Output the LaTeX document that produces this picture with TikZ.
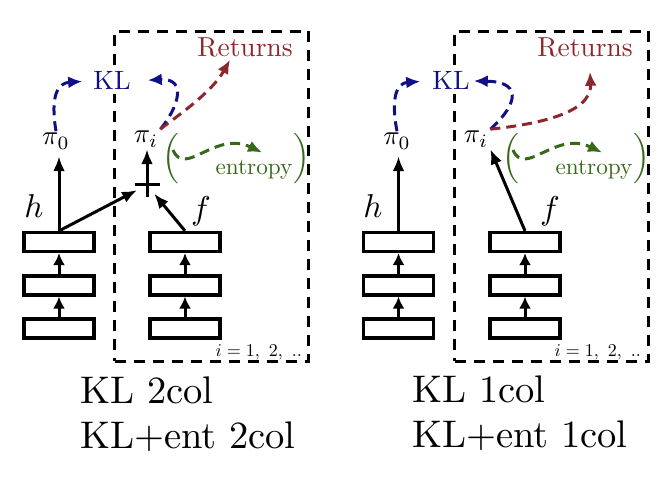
\documentclass[tikz,border=0pt]{standalone}
\usetikzlibrary{arrows.meta,calc}
\definecolor{klblue}{RGB}{15,15,135}
\definecolor{retred}{RGB}{140,40,45}
\definecolor{entgreen}{RGB}{55,105,25}
\newcommand{\mth}[2]{\scalebox{#1}{$#2$}}
\newcommand{\txt}[2]{\scalebox{#1}{#2}}
\tikzset{
  layer/.style={draw,line width=3.2pt,minimum width=70pt,minimum height=19pt,inner sep=0pt},
  arr/.style={-{Latex[length=15pt,width=12pt]},line width=3pt},
  sarr/.style={-{Latex[length=12pt,width=12pt]},line width=3pt},
  loopbox/.style={draw,line width=3pt,dash pattern=on 11pt off 8pt,minimum width=194pt,minimum height=330pt,inner sep=0pt},
  darr/.style={-{Latex[length=14pt,width=12pt]},line width=3pt,dash pattern=on 10pt off 6pt},
  lab/.style={inner sep=2pt},
  ent/.style={inner sep=2pt,text=entgreen},
  paren/.style={inner sep=0pt,text=entgreen},
  capt/.style={inner sep=0pt},
  idx/.style={inner sep=0pt},
  plusnode/.style={circle,minimum size=22pt,inner sep=0pt},
  plusline/.style={line width=3pt},
}
\begin{document}
\begin{tikzpicture}[x=1pt,y=-1pt]
\useasboundingbox (0,0) rectangle (665,481);

% ================= LEFT =================
\node[loopbox] (loopL) at (211.5,196.5) {};
\node[idx,anchor=base east] (idxL) at (302,357) {\mth{1.8}{i=1,\ 2,\ ..}};
\node[lab,text=klblue,fill=white,inner sep=4pt,anchor=base] (KLL) at (112,90) {\txt{2.65}{KL}};
\node[lab,text=retred,anchor=base] (RetL) at (245,57) {\txt{2.75}{Returns}};
\node[lab,anchor=base] (pi0L) at (56,145) {\mth{2.7}{\pi_0}};
\node[lab,anchor=base] (piL) at (146,143) {\mth{2.7}{\pi_i}};
\node[lab,anchor=base] (hL) at (34,218) {\mth{3.3}{h}};
\node[lab,anchor=base] (fL) at (201,220) {\mth{3.3}{f}};
\node[layer] (hL1) at (59,242) {};
\node[layer] (hL2) at (59,285.5) {};
\node[layer] (hL3) at (59,328.5) {};
\node[layer] (fL1) at (185,242) {};
\node[layer] (fL2) at (185,285.5) {};
\node[layer] (fL3) at (185,328.5) {};
\node[plusnode] (plusL) at (147,185) {};
\draw[plusline] ($(plusL)+(-12.5,0)$) -- ($(plusL)+(12.5,0)$)
                ($(plusL)+(0,-12.5)$) -- ($(plusL)+(0,12.5)$);
\node[paren] (poL) at (171,159) {\mth{2.8}{\Big(}};
\node[paren] (pcL) at (302,159) {\mth{2.8}{\Big)}};
\node[ent,anchor=base] (entL) at (254,175) {\txt{2.32}{entropy}};
\coordinate (gsL) at (173,150);

\draw[sarr] (hL3) -- (hL2);
\draw[sarr] (hL2) -- (hL1);
\draw[sarr] (fL3) -- (fL2);
\draw[sarr] (fL2) -- (fL1);
\draw[arr,shorten >=5pt] (hL1.north) -- (hL1.north |- pi0L.south);
\draw[arr] (hL1.north) -- (plusL);
\draw[arr] (fL1.north) -- (plusL);
\draw[arr] (plusL) -- (plusL |- piL.south);
\draw[darr,klblue,shorten >=7pt] (pi0L.north) .. controls (50,95) and (58,83) .. (KLL.west);
\draw[darr,klblue,shorten >=13pt] (piL.north east) .. controls (178,108) and (188,78) .. (KLL.east);
\draw[darr,retred] (piL.north east) .. controls (180,114) and (212,92) .. ($(RetL.south)+(-15,0)$);
\draw[darr,entgreen] (gsL) .. controls (185,178) and (215,130) .. ($(entL.north)+(8,-6)$);

\node[capt,anchor=base west] (capL1) at (80,404) {\txt{3.85}{KL 2col}};
\node[capt,anchor=base west] (capL2) at (80,449) {\txt{3.85}{KL+ent 2col}};

% ================= RIGHT =================
\node[loopbox] (loopR) at (551.5,196.5) {};
\node[idx,anchor=base east] (idxR) at (641,357) {\mth{1.8}{i=1,\ 2,\ ..}};
\node[lab,text=klblue,fill=white,inner sep=4pt,anchor=base] (KLR) at (451,90) {\txt{2.65}{KL}};
\node[lab,text=retred,anchor=base] (RetR) at (585,57) {\txt{2.75}{Returns}};
\node[lab,anchor=base] (pi0R) at (397,145) {\mth{2.7}{\pi_0}};
\node[lab,anchor=base] (piR) at (476,143) {\mth{2.7}{\pi_i}};
\node[lab,anchor=base] (hR) at (373,218) {\mth{3.3}{h}};
\node[lab,anchor=base] (fR) at (550,220) {\mth{3.3}{f}};
\node[layer] (hR1) at (398.5,242) {};
\node[layer] (hR2) at (398.5,285.5) {};
\node[layer] (hR3) at (398.5,328.5) {};
\node[layer] (fR1) at (525,242) {};
\node[layer] (fR2) at (525,285.5) {};
\node[layer] (fR3) at (525,328.5) {};
\node[paren] (poR) at (511,159) {\mth{2.8}{\Big(}};
\node[paren] (pcR) at (642,159) {\mth{2.8}{\Big)}};
\node[ent,anchor=base] (entR) at (594,175) {\txt{2.32}{entropy}};
\coordinate (gsR) at (513,150);

\draw[sarr] (hR3) -- (hR2);
\draw[sarr] (hR2) -- (hR1);
\draw[sarr] (fR3) -- (fR2);
\draw[sarr] (fR2) -- (fR1);
\draw[arr,shorten >=5pt] (hR1.north) -- (hR1.north |- pi0R.south);
\draw[arr] (fR1.north) -- (piR.south east);
\draw[darr,klblue,shorten >=8pt] (pi0R.north) .. controls (390,95) and (398,83) .. (KLR.west);
\draw[darr,klblue] (piR.north east) .. controls (512,110) and (528,82) .. (KLR.east);
\draw[darr,retred] (piR.north east) .. controls (530,125) and (592,115) .. ($(RetR.south)+(5,12)$);
\draw[darr,entgreen] (gsR) .. controls (525,178) and (555,130) .. ($(entR.north)+(8,-6)$);

\node[capt,anchor=base west] (capR1) at (412,403) {\txt{3.85}{KL 1col}};
\node[capt,anchor=base west] (capR2) at (412,448) {\txt{3.85}{KL+ent 1col}};
\end{tikzpicture}
\end{document}
